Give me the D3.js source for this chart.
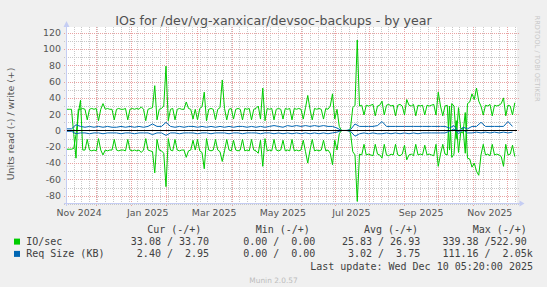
<!DOCTYPE html>
<html>

<head>
  <meta charset="UTF-8" />
  <title>IOs for /dev/vg-xanxicar/devsoc-backups - by year</title>
  <style>
    html, body {
      margin: 0;
      padding: 0;
      background: #f0f0f0;
    }

    svg {
      display: block;
    }

    text {
      font-family: "DejaVu Sans", sans-serif;
    }

    .mono {
      font-family: "DejaVu Sans Mono", monospace;
      font-size: 10px;
      fill: #404040;
      white-space: pre;
    }
  </style>
  <script src="https://cdn.jsdelivr.net/npm/d3@7"></script>
</head>

<body>
  <script>
    /* Time range: 400 days ending at the last update */
    let startTime = Date.UTC(2024, 10, 5, 5, 20),
      endTime = Date.UTC(2025, 11, 10, 5, 20),
      dayMs = 86400000;

    /* IO/sec, one value every 2 days (write +, read -) */
    let ioWrite = [
      26, 26, 26, -5, -34, 26, 26, 27, 26, 13,
      26, 27, 26, 27, 12, 26, 33, 26, 27, 26,
      26, 13, 26, 27, 26, 26, 27, 13, 26, 27,
      26, 27, 26, 29, 26, 12, 26, 27, 28, 55,
      13, 26, 27, 30, 79, 12, 26, 27, 13, 26,
      27, 26, 26, 35, 27, 26, 14, 26, 13, 27,
      29, 47, 12, 26, 27, 26, 13, 26, 28, 62,
      27, 13, 26, 27, 14, 26, 27, 26, 13, 27,
      26, 27, 13, 26, 27, 30, 14, 52, 12, 27,
      26, 27, 13, 26, 27, 26, 14, 27, 26, 27,
      13, 27, 26, 27, 26, 14, 28, 43, 26, 13,
      27, 26, 27, 26, 14, 27, 26, 30, 45, 14,
      26, 5, 0, 0, 0, 0, 3, 28, 31, 111,
      30, 31, 19, 31, 30, 31, 32, 18, 30, 31,
      36, 19, 31, 32, 30, 31, 18, 31, 32, 30,
      19, 38, 31, 30, 32, 18, 31, 30, 31, 19,
      31, 30, 31, 32, 19, 47, 30, 18, 30, 31,
      -24, 33, 30, -10, 28, 2, 3, -28, 33, 35,
      45, 38, 52, 36, 30, 19, 31, 30, 32, 18,
      31, 30, 31, 33, 40, 18, 31, 30, 19, 34
    ];
    let ioRead = [
      -23, -23, -23, -22, -5, 20, 37, -24, -24, -11,
      -24, -25, -24, -25, -10, -24, -30, -24, -25, -24,
      -24, -11, -24, -25, -24, -24, -25, -11, -24, -25,
      -24, -25, -24, -27, -24, -10, -24, -25, -26, -52,
      -11, -24, -25, -28, -69, -10, -24, -25, -11, -24,
      -25, -24, -24, -33, -25, -24, -12, -24, -11, -25,
      -27, -47, -10, -24, -25, -24, -11, -24, -26, -38,
      -25, -11, -24, -25, -12, -24, -25, -24, -11, -25,
      -24, -25, -11, -24, -25, -28, -12, -44, -10, -25,
      -24, -25, -11, -24, -25, -24, -12, -25, -24, -25,
      -11, -25, -24, -25, -24, -12, -26, -40, -24, -11,
      -25, -24, -25, -24, -12, -25, -24, -28, -42, -12,
      -24, -4, 0, 0, 0, 0, -3, -26, -30, -87,
      -29, -30, -17, -30, -29, -30, -31, -17, -29, -30,
      -34, -17, -30, -31, -29, -30, -17, -30, -31, -29,
      -18, -36, -30, -29, -31, -17, -30, -29, -30, -18,
      -30, -29, -30, -31, -17, -44, -29, -17, -29, -30,
      30, -33, -29, 12, -27, -2, -3, 22, -34, -35,
      -45, -40, -50, -55, -30, -17, -30, -29, -31, -17,
      -30, -29, -30, -32, -44, -17, -30, -29, -18, -32
    ];

    /* Req Size (KB), one value every 4 days (write +, read -) */
    let sizeWrite = [
      2, 2, 7, 5, 4, 5, 4, 5, 4, 5,
      4, 4, 5, 4, 5, 4, 5, 4, 5, 8,
      5, 5, 10, 5, 4, 5, 4, 5, 5, 4,
      5, 4, 5, 4, 5, 4, 5, 4, 5, 5,
      4, 5, 4, 5, 4, 5, 6, 5, 4, 6,
      5, 6, 5, 6, 5, 6, 5, 6, 5, 5,
      3, 0, 0, 1, 8, 5, 5, 5, 5, 6,
      11, 5, 5, 5, 5, 5, 5, 5, 5, 5,
      5, 5, 5, 5, 5, 3, 6, -2, 4, 2,
      5, 5, 10, 5, 5, 5, 5, 5, 11, 5
    ];
    let sizeRead = [
      -1, -1, -4, -3, -3, -4, -3, -3, -4, -3,
      -3, -3, -4, -3, -3, -4, -3, -3, -3, -5,
      -3, -3, -6, -3, -3, -4, -3, -3, -3, -4,
      -3, -3, -4, -3, -3, -3, -4, -3, -3, -4,
      -3, -3, -3, -4, -3, -3, -4, -3, -4, -3,
      -4, -3, -4, -3, -4, -3, -4, -3, -4, -3,
      -2, 0, 0, -1, -7, -4, -3, -4, -3, -4,
      -4, -3, -4, -3, -4, -3, -4, -3, -4, -3,
      -3, -3, -3, -3, -3, -1, 2, -4, 1, -3,
      -3, -2, -3, -2, -3, -2, -3, -2, -3, -2
    ];

    /* Axis labels */
    let yTicks = [-80, -60, -40, -20, 0, 20, 40, 60, 80, 100, 120],
      yMinorTicks = [-90, -70, -50, -30, -10, 10, 30, 50, 70, 90, 110],
      xLabelMonths = [[2024, 10], [2025, 0], [2025, 2], [2025, 4], [2025, 6], [2025, 8], [2025, 10]],
      xLabelTexts = ["Nov 2024", "Jan 2025", "Mar 2025", "May 2025", "Jul 2025", "Sep 2025", "Nov 2025"];

    /* Legend */
    let seriesNames = ["IO/sec", "Req Size (KB)"],
      seriesColors = ["#00cc00", "#0066b3"],
      legendHeaders = ["Cur (-/+)", "Min (-/+)", "Avg (-/+)", "Max (-/+)"],
      curValues = [" 33.08 / 33.70", "  2.40 /  2.95"],
      minValues = ["  0.00 /  0.00", "  0.00 /  0.00"],
      avgValues = [" 25.83 / 26.93", "  3.02 /  3.75"],
      maxValues = ["339.38 /522.90", "111.16 /  2.05k"],
      lastUpdate = "Last update: Wed Dec 10 05:20:00 2025";

    let W = 547, H = 287,
      plot = { left: 67, right: 517, top: 27, bottom: 203 },
      axisColor = "#c5cdf3",
      tickColor = "#555";

    let svg = d3.select("body")
      .append("svg")
      .attr("width", W)
      .attr("height", H);

    svg.append("rect")
      .attr("width", W)
      .attr("height", H)
      .attr("fill", "#f0f0f0");

    /* Scales */
    let x = d3.scaleUtc()
      .domain([new Date(startTime), new Date(endTime)])
      .range([plot.left, plot.right]);

    let y = d3.scaleLinear()
      .domain([-89, 127])
      .range([plot.bottom, plot.top]);

    /* Plot background */
    svg.append("rect")
      .attr("x", plot.left - 1)
      .attr("y", plot.top)
      .attr("width", plot.right - plot.left + 1)
      .attr("height", plot.bottom - plot.top)
      .attr("fill", "#fff");

    /* Grid */
    let grid = svg.append("g").attr("shape-rendering", "crispEdges");
    let minorColor = "#c8c8c8", majorColor = "#e9a3a3";

    let weeks = d3.utcMonday.range(new Date(startTime), new Date(endTime)),
      months = d3.utcMonth.range(new Date(startTime), new Date(endTime));

    grid.selectAll(".vminor")
      .data(weeks)
      .enter()
      .append("line")
      .attr("x1", d => Math.round(x(d)) + 0.5)
      .attr("x2", d => Math.round(x(d)) + 0.5)
      .attr("y1", plot.top)
      .attr("y2", plot.bottom + 2)
      .attr("stroke", minorColor)
      .attr("stroke-dasharray", "1,1");

    grid.selectAll(".hminor")
      .data(yMinorTicks)
      .enter()
      .append("line")
      .attr("x1", plot.left - 3)
      .attr("x2", plot.right + 2)
      .attr("y1", d => Math.round(y(d)) + 0.5)
      .attr("y2", d => Math.round(y(d)) + 0.5)
      .attr("stroke", minorColor)
      .attr("stroke-dasharray", "1,1");

    grid.selectAll(".vmajor")
      .data(months)
      .enter()
      .append("line")
      .attr("x1", d => Math.round(x(d)) + 0.5)
      .attr("x2", d => Math.round(x(d)) + 0.5)
      .attr("y1", plot.top)
      .attr("y2", plot.bottom + 3)
      .attr("stroke", majorColor)
      .attr("stroke-dasharray", "1,1");

    grid.selectAll(".hmajor")
      .data(yTicks)
      .enter()
      .append("line")
      .attr("x1", plot.left - 3)
      .attr("x2", plot.right + 2)
      .attr("y1", d => Math.round(y(d)) + 0.5)
      .attr("y2", d => Math.round(y(d)) + 0.5)
      .attr("stroke", majorColor)
      .attr("stroke-dasharray", "1,1");

    /* Axes with arrows */
    svg.append("line")
      .attr("x1", plot.left - 0.5).attr("x2", plot.left - 0.5)
      .attr("y1", plot.bottom + 3).attr("y2", plot.top - 2)
      .attr("stroke", axisColor);
    svg.append("path")
      .attr("d", `M${plot.left - 3.5},${plot.top} L${plot.left - 0.5},${plot.top - 6} L${plot.left + 2.5},${plot.top} Z`)
      .attr("fill", axisColor);
    svg.append("line")
      .attr("x1", plot.left - 3).attr("x2", plot.right + 3)
      .attr("y1", plot.bottom + 0.5).attr("y2", plot.bottom + 0.5)
      .attr("stroke", axisColor);
    svg.append("path")
      .attr("d", `M${plot.right + 2.5},${plot.bottom - 2.5} L${plot.right + 7.5},${plot.bottom + 0.5} L${plot.right + 2.5},${plot.bottom + 3.5} Z`)
      .attr("fill", axisColor);

    /* Tick labels */
    svg.append("g")
      .selectAll("text")
      .data(yTicks)
      .enter()
      .append("text")
      .attr("x", plot.left - 6)
      .attr("y", d => y(d) + 3.4)
      .attr("text-anchor", "end")
      .attr("font-size", "9.4px")
      .attr("fill", tickColor)
      .text(d => d);

    svg.append("g")
      .selectAll("text")
      .data(xLabelMonths)
      .enter()
      .append("text")
      .attr("x", d => x(new Date(Date.UTC(d[0], d[1], 1) + 15 * dayMs)))
      .attr("y", 216)
      .attr("text-anchor", "middle")
      .attr("font-size", "9.4px")
      .attr("fill", tickColor)
      .text((d, i) => xLabelTexts[i]);

    /* Data lines */
    let line = d3.line()
      .x(d => x(d.t))
      .y(d => y(d.v));

    let toPoints = (values, stepDays) => values.map((v, i) => ({ t: new Date(startTime + i * stepDays * dayMs), v: v }));

    svg.append("path")
      .datum(toPoints(ioWrite, 2))
      .attr("d", line)
      .attr("fill", "none")
      .attr("stroke", seriesColors[0]);
    svg.append("path")
      .datum(toPoints(ioRead, 2))
      .attr("d", line)
      .attr("fill", "none")
      .attr("stroke", seriesColors[0]);
    svg.append("path")
      .datum(toPoints(sizeWrite, 4))
      .attr("d", line)
      .attr("fill", "none")
      .attr("stroke", seriesColors[1]);
    svg.append("path")
      .datum(toPoints(sizeRead, 4))
      .attr("d", line)
      .attr("fill", "none")
      .attr("stroke", seriesColors[1]);

    /* Zero rule */
    svg.append("line")
      .attr("x1", plot.left).attr("x2", plot.right)
      .attr("y1", Math.round(y(0)) + 0.5).attr("y2", Math.round(y(0)) + 0.5)
      .attr("stroke", "#000")
      .attr("shape-rendering", "crispEdges");

    /* Title and side texts */
    svg.append("text")
      .attr("x", W / 2)
      .attr("y", 24.5)
      .attr("text-anchor", "middle")
      .attr("font-size", "12.6px")
      .attr("fill", "#505050")
      .text("IOs for /dev/vg-xanxicar/devsoc-backups - by year");

    svg.append("text")
      .attr("transform", "translate(14,124) rotate(-90)")
      .attr("text-anchor", "middle")
      .attr("font-size", "9.4px")
      .attr("fill", tickColor)
      .text("Units read (-) / write (+)");

    svg.append("text")
      .attr("transform", "translate(535,15.5) rotate(90)")
      .attr("font-size", "6.7px")
      .attr("fill", "#c8c8c8")
      .text("RRDTOOL / TOBI OETIKER");

    /* Legend */
    let legend = svg.append("g");
    let headerY = 232.6, rowY = [244.9, 257.2];

    legend.selectAll(".hdr")
      .data(legendHeaders)
      .enter()
      .append("text")
      .attr("class", "mono")
      .attr("x", (d, i) => [147.2, 255.7, 363.9, 472.7][i])
      .attr("y", headerY)
      .text(d => d);

    seriesNames.forEach((name, r) => {
      legend.append("rect")
        .attr("x", 14)
        .attr("y", rowY[r] - 6.3)
        .attr("width", 6)
        .attr("height", 6)
        .attr("fill", seriesColors[r]);
      legend.append("text").attr("class", "mono").attr("x", 26.2).attr("y", rowY[r]).text(name);
      legend.append("text").attr("class", "mono").attr("x", 124.8).attr("y", rowY[r]).text(curValues[r]);
      legend.append("text").attr("class", "mono").attr("x", 231.1).attr("y", rowY[r]).text(minValues[r]);
      legend.append("text").attr("class", "mono").attr("x", 335.9).attr("y", rowY[r]).text(avgValues[r]);
      legend.append("text").attr("class", "mono").attr("x", 442.4).attr("y", rowY[r]).text(maxValues[r]);
    });

    legend.append("text")
      .attr("class", "mono")
      .attr("x", 533)
      .attr("y", 269.5)
      .attr("text-anchor", "end")
      .text(lastUpdate);

    svg.append("text")
      .attr("x", W / 2)
      .attr("y", 282.5)
      .attr("text-anchor", "middle")
      .attr("font-size", "7.4px")
      .attr("fill", "#bdbdbd")
      .text("Munin 2.0.57");
  </script>
</body>

</html>
